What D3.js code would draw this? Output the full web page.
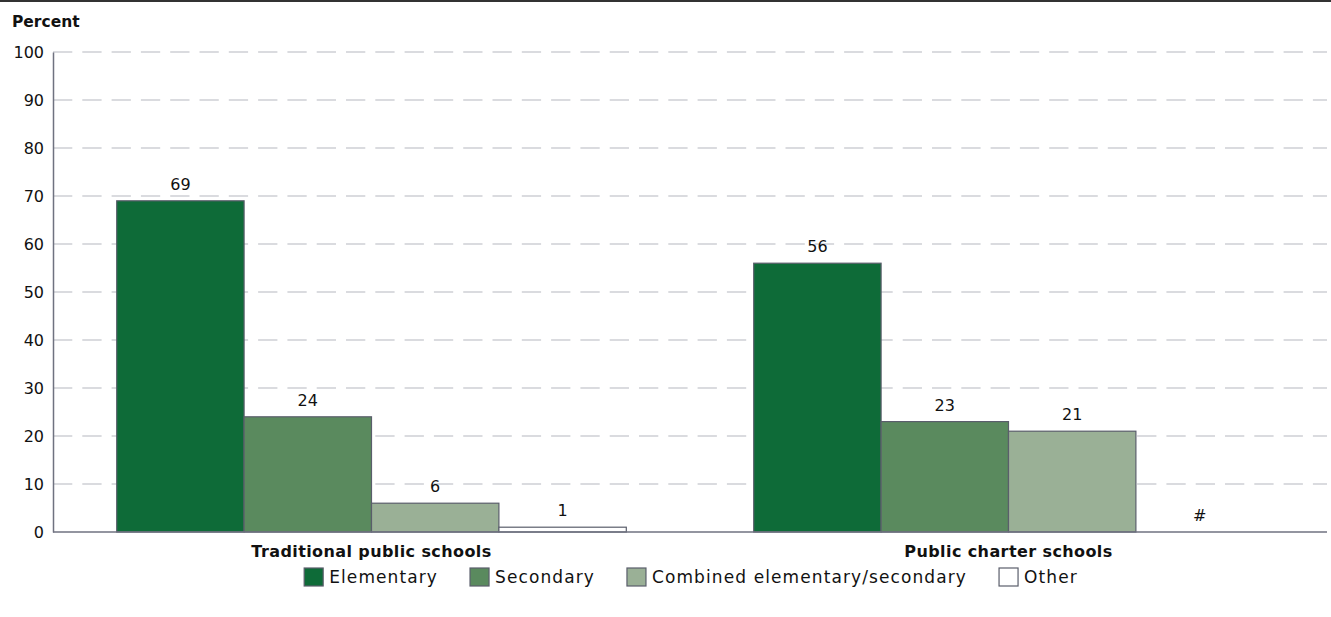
<!DOCTYPE html>
<html><head><meta charset="utf-8">
<script src="https://cdn.jsdelivr.net/npm/d3@7"></script>
<style>body{margin:0;background:#fff}svg{display:block;font-family:"DejaVu Sans",sans-serif}</style>
</head><body><svg id="c" width="1331" height="617"></svg>
<script>
const groups = ["Traditional public schools", "Public charter schools"];
const series = ["Elementary", "Secondary", "Combined elementary/secondary", "Other"];
const traditional = [69, 24, 6, 1];
const charter = [56, 23, 21, 0];
const traditionalLabels = ["69", "24", "6", "1"];
const charterLabels = ["56", "23", "21", "#"];
const yTicks = [0, 10, 20, 30, 40, 50, 60, 70, 80, 90, 100];
const colors = ["#0e6b38", "#5a8a5e", "#9ab096", "#ffffff"];

const data = groups.map((g, gi) => ({
  group: g,
  values: series.map((s, si) => ({
    series: s,
    value: gi === 0 ? traditional[si] : charter[si],
    label: gi === 0 ? traditionalLabels[si] : charterLabels[si]
  }))
}));

const svg = d3.select("#c");
const mLeft = 53, mRight = 1327, mTop = 52, mBottom = 532;

svg.append("line").attr("x1", 0).attr("x2", 1331).attr("y1", 1).attr("y2", 1)
  .attr("stroke", "#333").attr("stroke-width", 2);

const y = d3.scaleLinear().domain([0, 100]).range([mBottom, mTop]);
const x0 = d3.scaleBand().domain(groups).range([mLeft, mRight]).padding(0);
const x1 = d3.scaleBand().domain(series).range([0, x0.bandwidth()]).paddingInner(0).paddingOuter(0.5);
const color = d3.scaleOrdinal().domain(series).range(colors);

// gridlines
svg.append("g").selectAll("line").data(yTicks.filter(t => t > 0)).join("line")
  .attr("x1", mLeft).attr("x2", mRight)
  .attr("y1", d => y(d)).attr("y2", d => y(d))
  .attr("stroke", "#b6b8bf").attr("stroke-width", 1.2)
  .attr("stroke-dasharray", "19.3,10");

// y axis
const yAxis = svg.append("g").attr("transform", `translate(${mLeft},0)`)
  .call(d3.axisLeft(y).tickValues(yTicks).tickSize(0).tickPadding(9));
yAxis.select(".domain").attr("stroke", "#6f7280").attr("stroke-width", 1.5);
yAxis.selectAll("text").attr("font-size", 16).attr("fill", "#111")
  .attr("font-family", "DejaVu Sans, sans-serif");

svg.append("text").attr("x", 12).attr("y", 27).text("Percent")
  .attr("font-size", 15.5).attr("font-weight", "bold").attr("fill", "#111");

// bars
const gsel = svg.append("g").selectAll("g").data(data).join("g")
  .attr("transform", d => `translate(${x0(d.group)},0)`);
gsel.selectAll("rect").data(d => d.values.filter(v => v.value > 0)).join("rect")
  .attr("x", d => x1(d.series)).attr("width", x1.bandwidth())
  .attr("y", d => y(d.value)).attr("height", d => y(0) - y(d.value))
  .attr("fill", d => color(d.series)).attr("stroke", "#5a5e6b").attr("stroke-width", 1.2);
gsel.selectAll("text").data(d => d.values).join("text")
  .attr("x", d => x1(d.series) + x1.bandwidth() / 2)
  .attr("y", d => y(d.value) - 11)
  .attr("text-anchor", "middle").attr("font-size", 16).attr("fill", "#111")
  .text(d => d.label);

// x axis baseline
svg.append("line").attr("x1", mLeft).attr("x2", mRight).attr("y1", mBottom).attr("y2", mBottom)
  .attr("stroke", "#6f7280").attr("stroke-width", 1.5);

// category labels
svg.append("g").selectAll("text").data(groups).join("text")
  .attr("x", d => x0(d) + x0.bandwidth() / 2).attr("y", 557)
  .attr("text-anchor", "middle").attr("font-size", 16).attr("font-weight", "bold")
  .attr("letter-spacing", 0.4).attr("fill", "#111")
  .text(d => d);

// legend (laid out sequentially, centred under plot)
const sw = 19, textOff = 25, gap = 32, legendTop = 568, legendCenter = 691;
const lg = svg.append("g");
const items = lg.selectAll("g").data(series).join("g");
items.append("rect").attr("width", sw).attr("height", 18)
  .attr("fill", d => color(d)).attr("stroke", "#5a5e6b").attr("stroke-width", 1.2);
items.append("text").attr("x", textOff).attr("y", 15).attr("font-size", 17)
  .attr("letter-spacing", 1.1).attr("fill", "#111").text(d => d);
let cx = 0;
const offsets = [];
items.each(function() {
  offsets.push(cx);
  const w = d3.select(this).select("text").node().getComputedTextLength();
  cx += textOff + w + gap;
});
const total = cx - gap;
const startX = legendCenter - total / 2;
items.attr("transform", (d, i) => `translate(${startX + offsets[i]},${legendTop})`);
</script></body></html>
